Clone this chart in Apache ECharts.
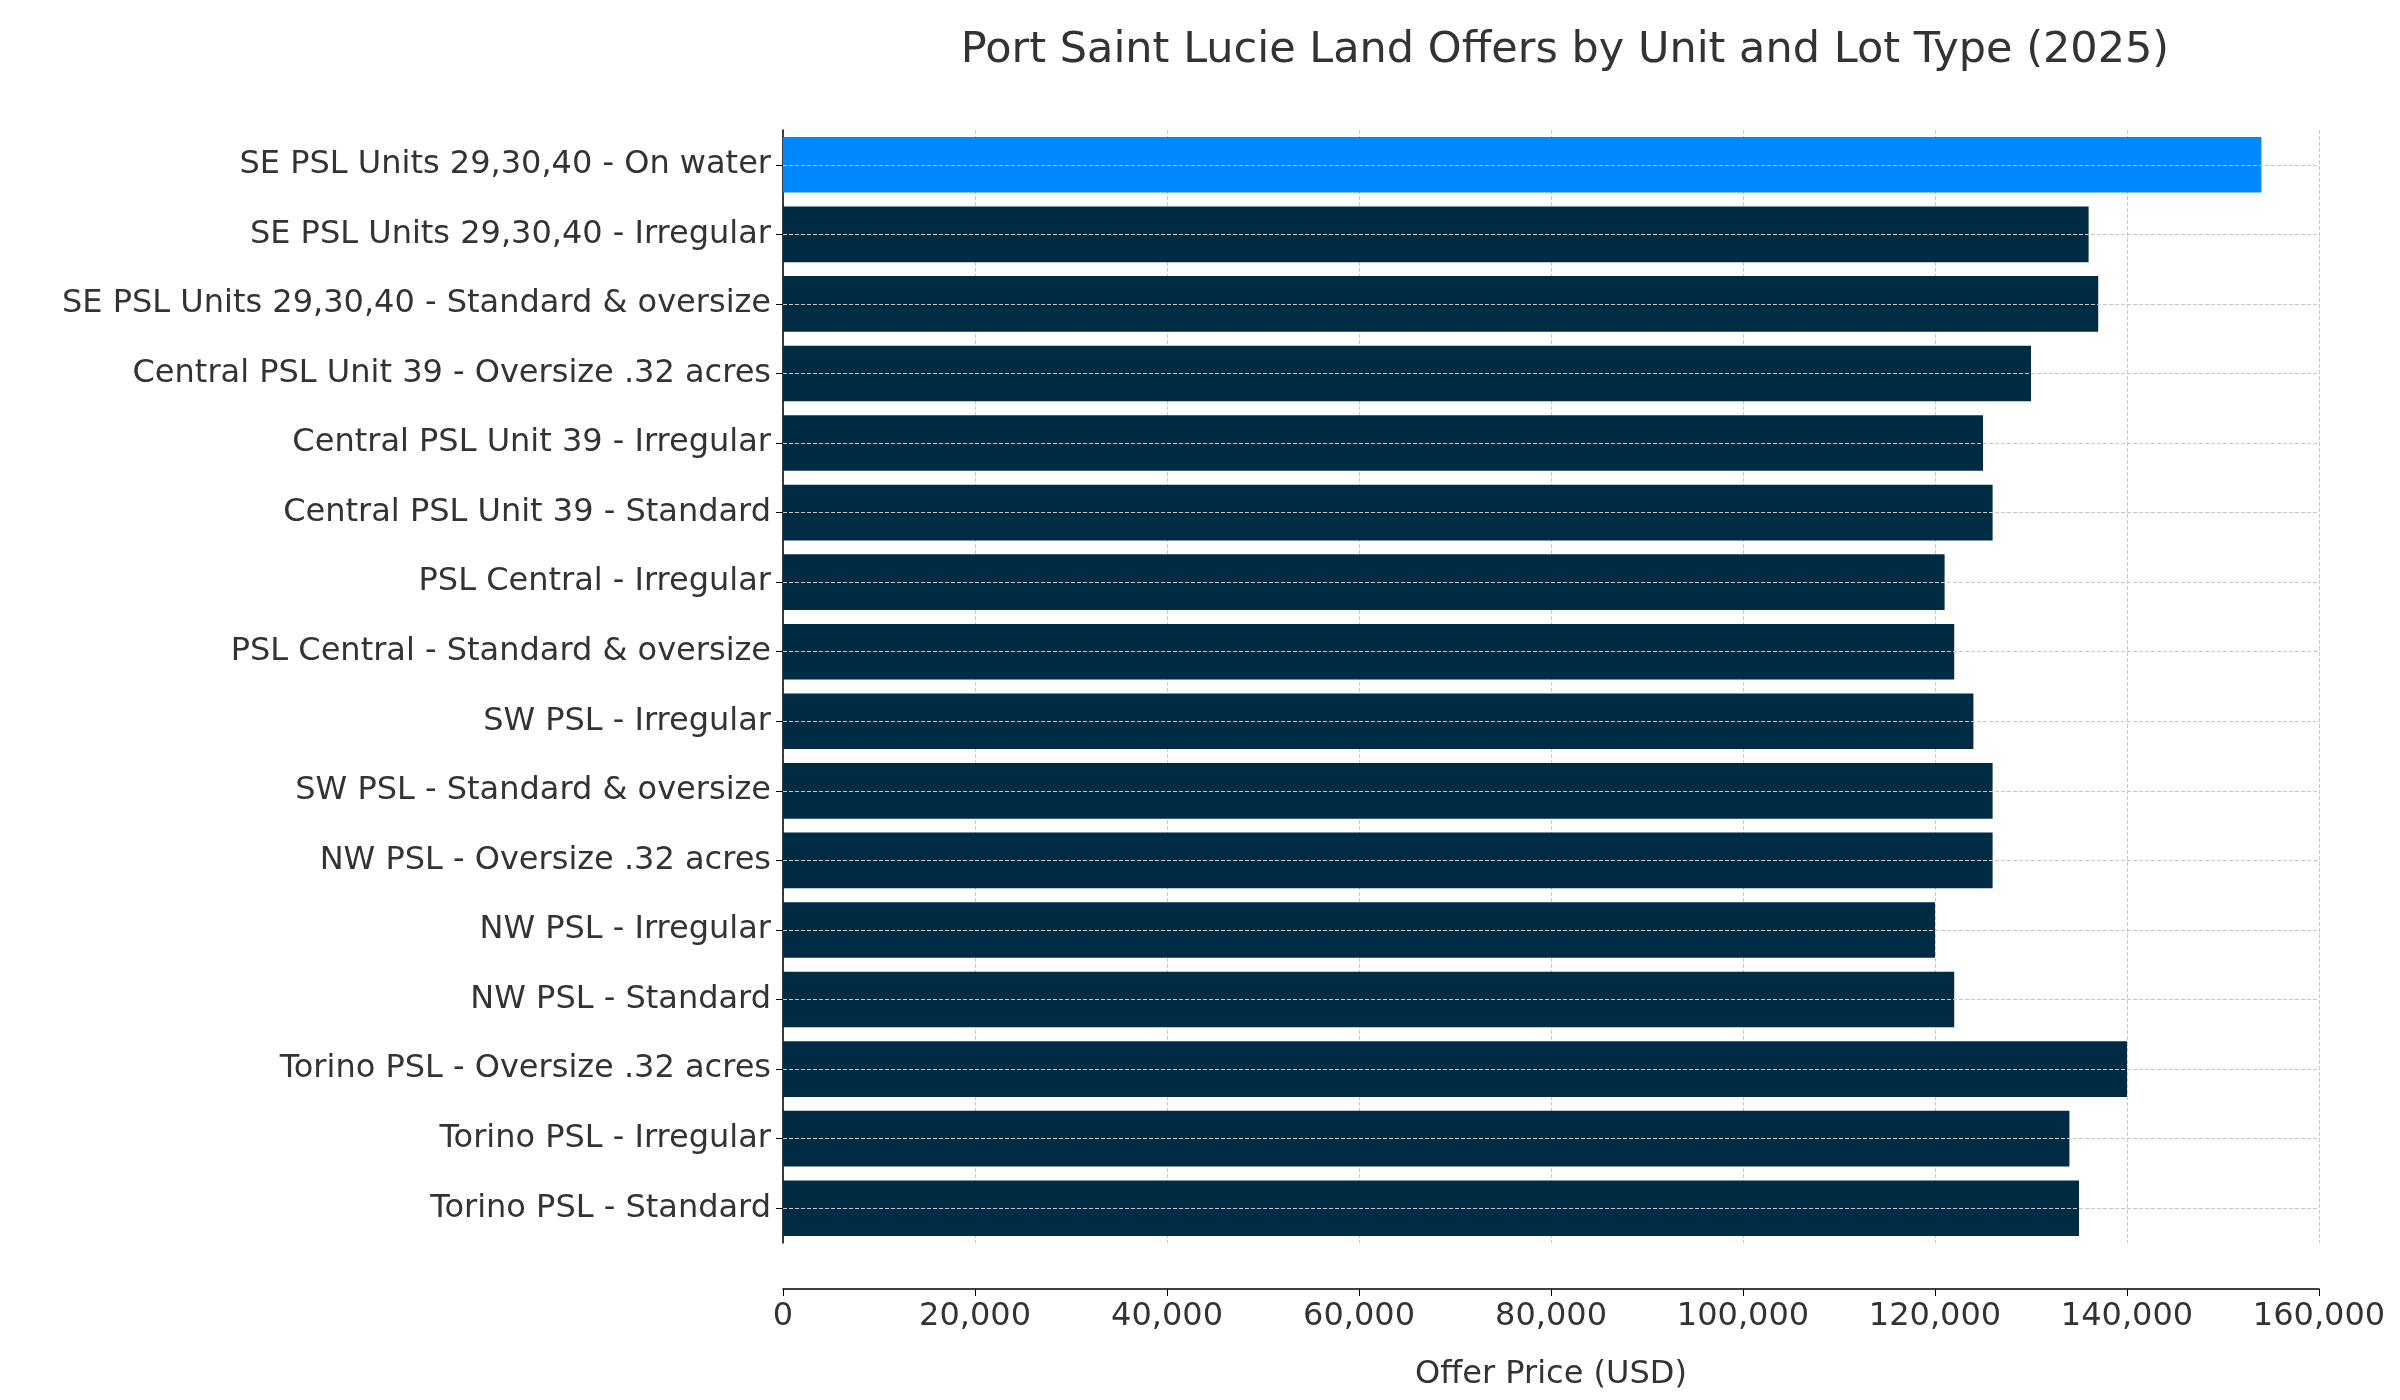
<!DOCTYPE html>
<html><head><meta charset="utf-8">
<script src="https://cdn.jsdelivr.net/npm/echarts@6/dist/echarts.min.js"></script>
<style>html,body{margin:0;background:#fff}#c{width:2400px;height:1400px}</style>
</head><body><div id="c"></div>
<script>
const categories = ["SE PSL Units 29,30,40 - On water","SE PSL Units 29,30,40 - Irregular","SE PSL Units 29,30,40 - Standard & oversize","Central PSL Unit 39 - Oversize .32 acres","Central PSL Unit 39 - Irregular","Central PSL Unit 39 - Standard","PSL Central - Irregular","PSL Central - Standard & oversize","SW PSL - Irregular","SW PSL - Standard & oversize","NW PSL - Oversize .32 acres","NW PSL - Irregular","NW PSL - Standard","Torino PSL - Oversize .32 acres","Torino PSL - Irregular","Torino PSL - Standard"];
const prices = [154000,136000,137000,130000,125000,126000,121000,122000,124000,126000,126000,120000,122000,140000,134000,135000];
const highlight = "SE PSL Units 29,30,40 - On water";
const font = "DejaVu Sans";
const chart = echarts.init(document.getElementById('c'));
chart.setOption({
  animation:false,
  title:{text:"Port Saint Lucie Land Offers by Unit and Lot Type (2025)",left:1560,top:24,textAlign:'center',textStyle:{fontFamily:font,fontSize:43,fontWeight:'normal',color:'#333'}},
  grid:{left:783,right:81,top:130,bottom:157},
  xAxis:{type:'value',min:0,max:160000,interval:20000,offset:46,
    name:"Offer Price (USD)",nameLocation:'middle',nameGap:70,nameTextStyle:{fontFamily:font,fontSize:32,color:'#333'},
    axisLine:{show:true,lineStyle:{color:'#000',width:1.5}},axisTick:{show:true,length:7,lineStyle:{color:'#000'}},
    axisLabel:{fontFamily:font,fontSize:32,color:'#333',margin:12},
    splitLine:{lineStyle:{type:'dashed',color:'#c8c8c8'}}},
  yAxis:{type:'category',inverse:true,data:categories,
    axisLine:{show:true,lineStyle:{color:'#000',width:1.5}},axisTick:{show:true,alignWithLabel:true,length:7,lineStyle:{color:'#000'}},
    axisLabel:{fontFamily:font,fontSize:32,color:'#333',margin:12},
    splitLine:{show:false}},
  series:[{type:'bar',barCategoryGap:'20%',z:2,
    data:prices.map((v,i)=>({value:v,itemStyle:{color:categories[i]===highlight?'#0088ff':'#002b45'}})),
    markLine:{silent:true,symbol:'none',label:{show:false},lineStyle:{type:'dashed',color:'#c8c8c8',width:1},z:3,
      data:categories.map(c=>({yAxis:c}))}}]
});
</script></body></html>
